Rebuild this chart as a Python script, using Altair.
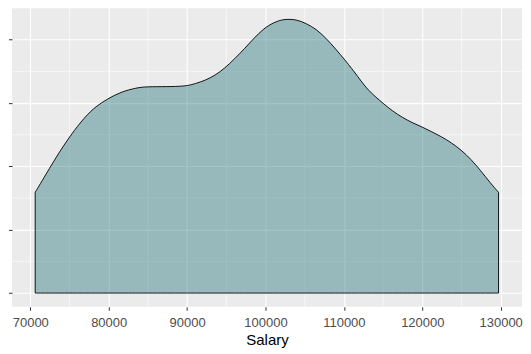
import altair as alt
import pandas as pd

# Salary (x) and estimated density (in units of 1e-6)
salary = [70623, 71534, 72369, 73616, 75150, 76945, 78392, 79850, 81509, 83591,
          84838, 87332, 89826, 91072, 92319, 93566, 94813, 96060, 97307, 98554,
          99800, 101047, 102294, 103953, 105200, 106446, 107693, 108940, 110187, 111022,
          111646, 112893, 114140, 115050, 116222, 117469, 118716, 119963, 121210, 122456,
          123703, 124950, 126197, 127444, 128690, 129726]
density = [7.95, 8.89, 9.76, 11.04, 12.47, 13.90, 14.75, 15.32, 15.87, 16.21,
           16.29, 16.29, 16.32, 16.53, 16.79, 17.18, 17.75, 18.49, 19.27, 20.14,
           20.89, 21.36, 21.63, 21.60, 21.28, 20.84, 20.14, 19.27, 18.36, 17.70,
           17.20, 16.14, 15.43, 14.95, 14.36, 13.86, 13.44, 13.12, 12.73, 12.34,
           11.87, 11.30, 10.57, 9.67, 8.68, 7.95]

x_ticks = [70000, 80000, 90000, 100000, 110000, 120000, 130000]
x_minor = [75000, 85000, 95000, 105000, 115000, 125000]
y_ticks = [0, 5, 10, 15, 20]
y_minor = [2.5, 7.5, 12.5, 17.5, 22.5]

x_domain = [67666, 132720]
y_domain = [-1.08, 22.71]

df = pd.DataFrame({"Salary": salary, "density": density})
df_xm = pd.DataFrame({"Salary": x_minor})
df_ym = pd.DataFrame({"density": y_minor})

xs = alt.Scale(domain=x_domain, nice=False, zero=False)
ys = alt.Scale(domain=y_domain, nice=False, zero=False)

x_axis = alt.Axis(
    values=x_ticks,
    format="d",
    title="Salary",
    grid=True,
    gridColor="white",
    gridWidth=1.1,
    domain=False,
    ticks=True,
    tickColor="#333333",
    tickSize=3.5,
    tickWidth=1,
    labelColor="#4D4D4D",
    labelFont="Liberation Sans",
    labelFontSize=13,
    labelPadding=6,
    titleFont="Liberation Sans",
    titleFontSize=15,
    titleFontWeight="normal",
    titleColor="black",
    titlePadding=3.5,
    labelFlush=False,
)
y_axis = alt.Axis(
    values=y_ticks,
    labels=False,
    title=None,
    grid=True,
    gridColor="white",
    gridWidth=1.1,
    domain=False,
    ticks=True,
    tickColor="#333333",
    tickSize=3.5,
    tickWidth=1,
)

minor_x = alt.Chart(df_xm).mark_rule(color="white", strokeWidth=0.55).encode(
    x=alt.X("Salary:Q", scale=xs, axis=x_axis)
)
minor_y = alt.Chart(df_ym).mark_rule(color="white", strokeWidth=0.55).encode(
    y=alt.Y("density:Q", scale=ys, axis=y_axis)
)

area = alt.Chart(df).mark_area(
    interpolate="basis",
    fill="#1B6F72",
    fillOpacity=0.4,
    stroke="black",
    strokeWidth=0.9,
).encode(
    x=alt.X("Salary:Q", scale=xs, axis=x_axis),
    y=alt.Y("density:Q", scale=ys, axis=y_axis),
)

chart = alt.layer(minor_x, minor_y, area).properties(
    width=511,
    height=302,
    padding={"left": 0, "top": -4, "right": 0, "bottom": 0},
    background="white",
).configure_view(fill="#EBEBEB", stroke=None)

chart.save("out.html", embed_options={"renderer": "svg", "actions": False})
